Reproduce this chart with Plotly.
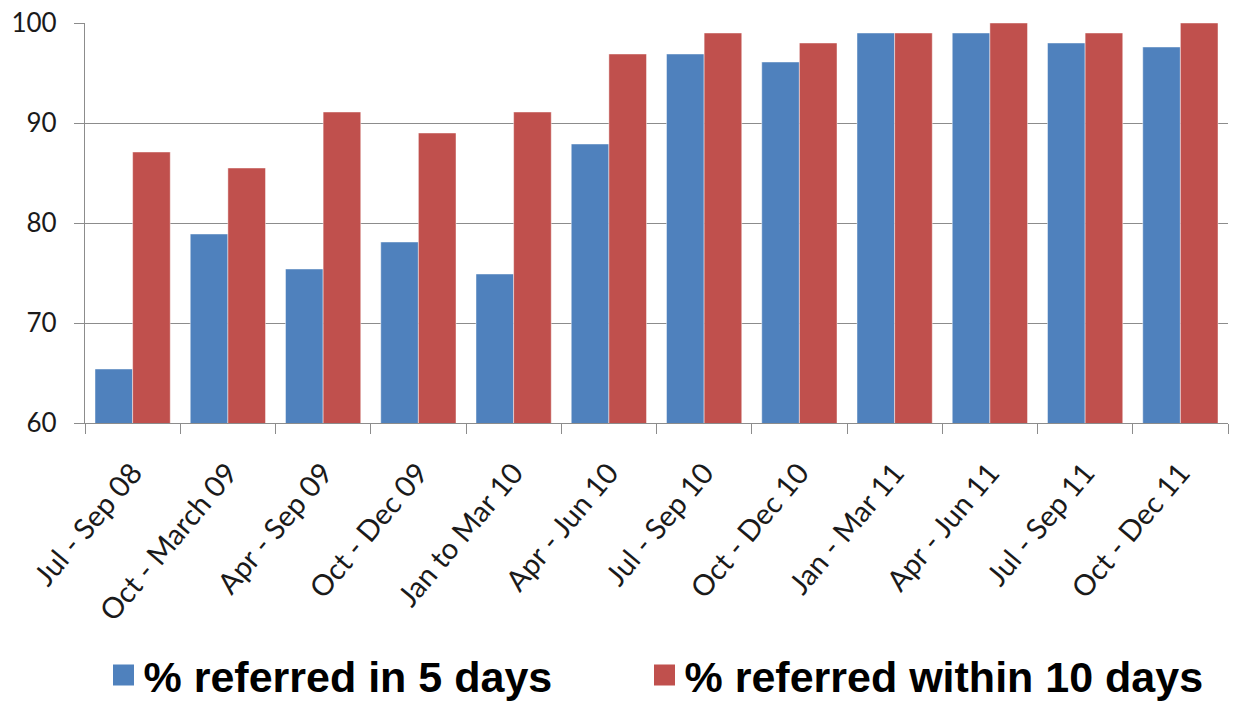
import plotly.graph_objects as go

categories = ["Jul - Sep 08", "Oct - March 09", "Apr - Sep 09", "Oct - Dec 09",
              "Jan to Mar 10", "Apr - Jun 10", "Jul - Sep 10", "Oct - Dec 10",
              "Jan - Mar 11", "Apr - Jun 11", "Jul - Sep 11", "Oct - Dec 11"]
in_5_days = [65.4, 78.9, 75.4, 78.1, 74.9, 87.9, 96.9, 96.1, 99.0, 99.0, 98.0, 97.6]
within_10_days = [87.1, 85.5, 91.1, 89.0, 91.1, 96.9, 99.0, 98.0, 99.0, 100.0, 99.0, 100.0]
series_names = ["% referred in 5 days", "% referred within 10 days"]
colors = ["#4F81BD", "#C0504D"]
y_ticks = [60, 70, 80, 90, 100]

fig = go.Figure()
for name, vals, col in zip(series_names, [in_5_days, within_10_days], colors):
    fig.add_trace(go.Bar(x=categories, y=vals, name=name, showlegend=False,
                         marker=dict(color=col, line=dict(color="rgba(255,255,255,0.45)", width=1))))
for name, col, lg in zip(series_names, colors, ["legend", "legend2"]):
    fig.add_trace(go.Scatter(x=[None], y=[None], mode="markers", name=name, legend=lg,
                             marker=dict(symbol="square", size=16, color=col,
                                         line=dict(color=col, width=5))))

grid = "#8c8c8c"
legend_font = dict(family="Liberation Sans Narrow, Arial Narrow, Liberation Sans",
                   size=43, color="black", weight="bold")
fig.update_layout(
    width=1234, height=707,
    margin=dict(l=85, r=6, t=23, b=284),
    paper_bgcolor="white", plot_bgcolor="white",
    barmode="group", bargap=0.21, bargroupgap=0,
    font=dict(family="Lato, Calibri, sans-serif", color="#1a1a1a"),
    legend=dict(orientation="h", x=0.0162, xanchor="left", yref="container", y=0.0452,
                yanchor="middle", font=legend_font, itemwidth=30),
    legend2=dict(orientation="h", x=0.4895, xanchor="left", yref="container", y=0.0452,
                 yanchor="middle", font=legend_font, itemwidth=30),
)
fig.update_xaxes(type="category", showgrid=False, showline=True, linecolor=grid, linewidth=1.3,
                 ticks="outside", tickson="boundaries", ticklen=10, tickcolor=grid, tickwidth=1.3,
                 automargin=False, ticklabelstandoff=20,
                 tickangle=-50, tickfont=dict(size=29, family="Lato, Calibri, sans-serif"))
fig.update_yaxes(range=[60, 100], tickvals=y_ticks, showgrid=True, gridcolor=grid, gridwidth=1.3,
                 showline=True, linecolor=grid, linewidth=1.3, zeroline=False, automargin=False,
                 ticks="outside", ticklen=10, tickcolor=grid, tickwidth=1.3,
                 ticklabeloverflow="allow", ticklabelstandoff=12,
                 tickfont=dict(size=26, family="Lato, Calibri, sans-serif"))

fig.write_html("out.html", config={"displayModeBar": False},
               post_script="document.body.style.margin='0';")
